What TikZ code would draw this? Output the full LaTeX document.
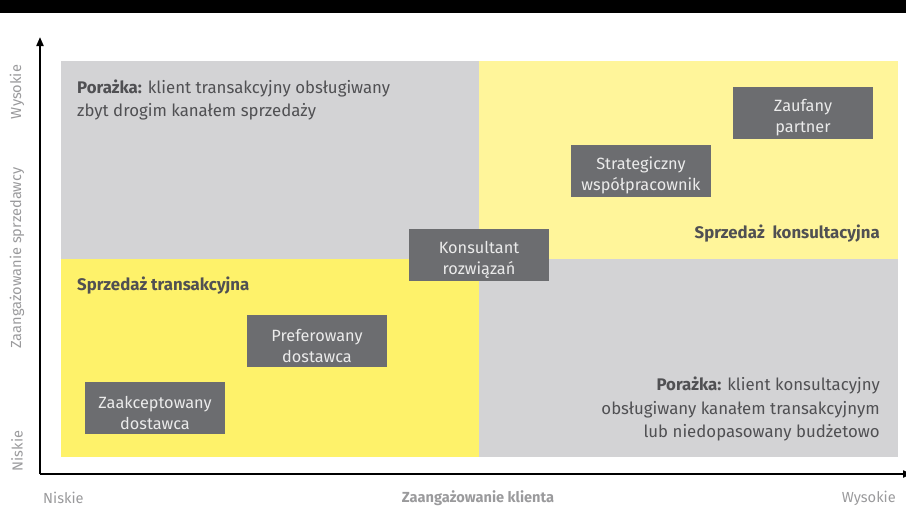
\documentclass[tikz,border=0pt]{standalone}
\usepackage{fontspec}
\setmainfont{Fira Sans}
\usetikzlibrary{arrows.meta}
\definecolor{quadgray}{HTML}{D3D3D5}
\definecolor{quadyellow}{HTML}{FEF26A}
\definecolor{paleyellow}{HTML}{FFF59A}
\definecolor{boxgray}{HTML}{6C6D70}
\definecolor{labelgray}{HTML}{505053}
\definecolor{axisgray}{HTML}{9A9A9C}
% taller first line pushes the two-line box labels a little lower
\newcommand\boxlift{\rule{0pt}{22pt}}
\tikzset{
  rolebox/.style={fill=boxgray, text=white!92!black, minimum width=140pt, minimum height=52pt,
    inner sep=0pt, align=center, font=\fontsize{16.3}{21}\selectfont},
  quadtext/.style={text=labelgray, inner sep=0pt, font=\fontsize{16.8}{23}\selectfont},
  axislabel/.style={text=axisgray, inner sep=0pt, font=\fontsize{14.6}{16}\selectfont},
  axisline/.style={line width=2pt, black}
}
\begin{document}
\begin{tikzpicture}[x=1pt, y=-1pt]
\useasboundingbox (0,0) rectangle (906,506);
% header band
\fill[black] (0,0) rectangle (906,13);
% quadrants
\fill[quadgray] (61,61) rectangle (479,259);
\fill[paleyellow] (479,61) rectangle (898,259);
\fill[quadyellow] (61,259) rectangle (479,457);
\fill[quadgray] (479,259) rectangle (898,457);
% axes
\coordinate (origin) at (40,474);
\coordinate (ytop) at (40,37);
\coordinate (xend) at (912,474);
\draw[axisline, -{Triangle[length=9pt, width=7pt]}] (origin) -- (ytop);
\draw[axisline, -{Triangle[length=9pt, width=7pt]}] (origin) -- (xend);
% quadrant texts
\node[quadtext, anchor=north west, align=left] (failtop) at (77,80)
  {\textbf{Porażka:} klient transakcyjny obsługiwany\\zbyt drogim kanałem sprzedaży};
\node[quadtext, anchor=west, font=\fontsize{16.8}{23}\selectfont\bfseries] (trans) at (77,286)
  {Sprzedaż transakcyjna};
\node[quadtext, anchor=east, font=\fontsize{16.8}{23}\selectfont\bfseries] (consult) at (880,234)
  {Sprzedaż\ \ konsultacyjna};
\node[quadtext, anchor=north east, align=right, font=\fontsize{16.8}{23.5}\selectfont] (failbottom) at (880,377)
  {\textbf{Porażka:} klient konsultacyjny\\obsługiwany kanałem transakcyjnym\\lub niedopasowany budżetowo};
% role boxes
\node[rolebox] (partner) at (803,113) {\boxlift Zaufany\\partner};
\node[rolebox] (strateg) at (641,171) {\boxlift Strategiczny\\współpracownik};
\node[rolebox] (konsult) at (479,255) {\boxlift Konsultant\\rozwiązań};
\node[rolebox] (prefer) at (317,341) {\boxlift Preferowany\\dostawca};
\node[rolebox] (zaakc) at (155,408) {\boxlift Zaakceptowany\\dostawca};
% axis labels
\node[axislabel, anchor=west] (xlow) at (43,498) {Niskie};
\node[axislabel, anchor=center, font=\fontsize{14.6}{16}\selectfont\bfseries] (xname) at (478,498) {Zaangażowanie klienta};
\node[axislabel, anchor=east] (xhigh) at (896,498) {Wysokie};
\node[axislabel, rotate=90] (ylow) at (17,451) {Niskie};
\node[axislabel, rotate=90] (yname) at (17,258) {Zaangażowanie sprzedawcy};
\node[axislabel, rotate=90] (yhigh) at (17,92) {Wysokie};
\end{tikzpicture}
\end{document}
